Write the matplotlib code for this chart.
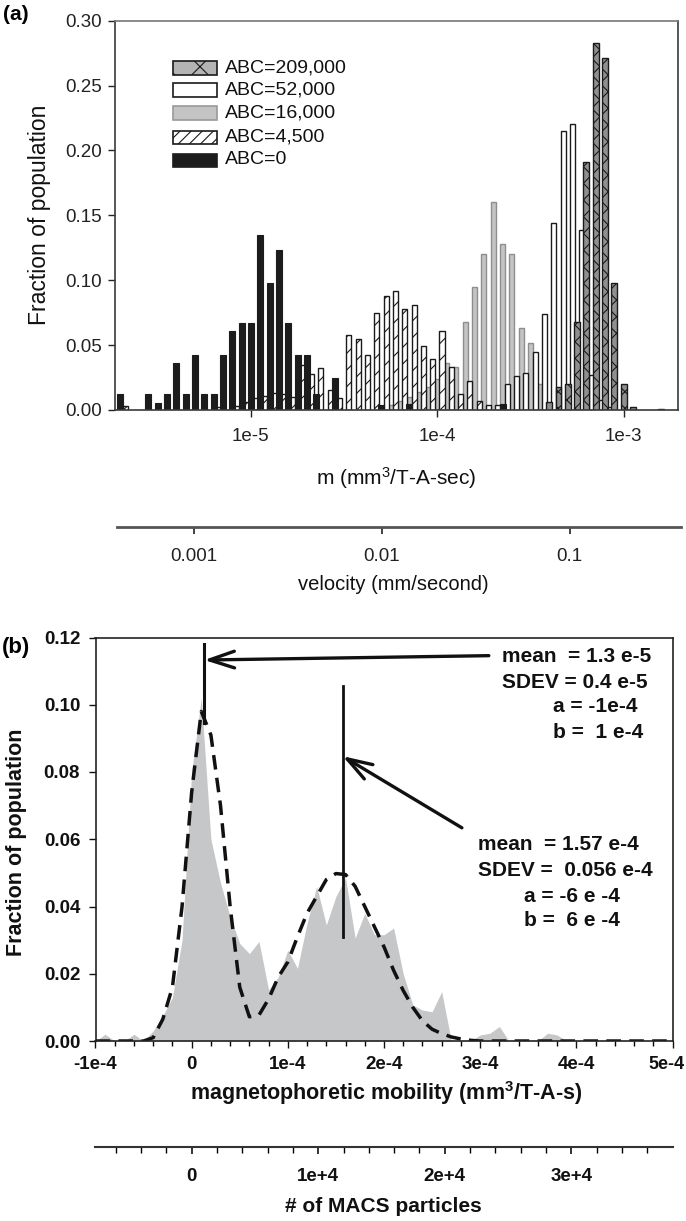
import numpy as np
import matplotlib.pyplot as plt
from matplotlib.patches import Rectangle
from matplotlib.ticker import FixedLocator, NullLocator, MultipleLocator
from matplotlib.transforms import ScaledTranslation

plt.rcParams['font.family'] = ['Liberation Sans', 'DejaVu Sans']
plt.rcParams['mathtext.default'] = 'regular'
plt.rcParams['hatch.linewidth'] = 0.8

W, H = 686, 1221

# ---------------- (a) histograms on log bins: 20 bins / decade from 10^-5.70
bin_start = -5.70
bin_step = 0.05

abc0_bin = [0, 3, 4, 5, 6, 7, 8, 9, 10, 11, 12, 13, 14, 15, 16, 17, 18, 19, 20, 21, 23, 28, 31, 41]
abc0_frac = [0.012, 0.012, 0.0056, 0.012, 0.036, 0.012, 0.042, 0.012, 0.012, 0.042, 0.061, 0.067,
             0.067, 0.135, 0.098, 0.123, 0.067, 0.042, 0.042, 0.012, 0.025, 0.004, 0.005, 0.005]

abc4500_bin = [0, 10, 12, 13, 14, 15, 16, 17, 18, 19, 20, 21, 22, 23, 24, 25, 26, 27, 28, 29,
               30, 31, 32, 33, 34, 35, 36, 37, 38]
abc4500_frac = [0.003, 0.002, 0.003, 0.006, 0.009, 0.011, 0.013, 0.012, 0.010, 0.035, 0.028, 0.032,
                0.0155, 0.009, 0.058, 0.055, 0.042, 0.0745, 0.088, 0.0915, 0.078, 0.081, 0.049,
                0.039, 0.061, 0.033, 0.012, 0.022, 0.007]

abc16k_bin = [29, 30, 31, 32, 33, 34, 35, 36, 37, 38, 39, 40, 41, 42, 43, 44, 45]
abc16k_frac = [0.004, 0.007, 0.010, 0.014, 0.018, 0.024, 0.036, 0.033, 0.068, 0.095, 0.120,
               0.160, 0.128, 0.120, 0.063, 0.052, 0.020]

abc52k_bin = [39, 40, 41, 42, 43, 44, 45, 46, 47, 48, 49, 50, 51, 52]
abc52k_frac = [0.004, 0.004, 0.0197, 0.026, 0.0287, 0.0446, 0.0736, 0.144, 0.215, 0.2205,
               0.139, 0.027, 0.008, 0.002]

abc209k_bin = [46, 47, 48, 49, 50, 51, 52, 53, 54, 55, 58, 60]
abc209k_frac = [0.006, 0.018, 0.020, 0.068, 0.191, 0.283, 0.271, 0.098, 0.020, 0.002, 0.001, 0.001]

legend_labels = ['ABC=209,000', 'ABC=52,000', 'ABC=16,000', 'ABC=4,500', 'ABC=0']
m_ticks = [1e-5, 1e-4, 1e-3]
m_ticklabels = ['1e-5', '1e-4', '1e-3']
vel_ticks = [0.001, 0.01, 0.1]
vel_ticklabels = ['0.001', '0.01', '0.1']
vel_per_m = 200.0

# ---------------- (b) mobility distribution, bins of 1e-5
mob_bin_e5 = list(range(-10, 51))
mob_frac = [0, 0.002, 0, 0, 0.002, 0, 0.003, 0.0075, 0.013, 0.030,
            0.080, 0.102, 0.060, 0.047, 0.037, 0.029, 0.026, 0.0296, 0.0152, 0.019,
            0.027, 0.0216, 0.035, 0.046, 0.0345, 0.043, 0.0485, 0.0306, 0.038, 0.0316,
            0.0316, 0.0336, 0.020, 0.0107, 0.0092, 0.0087, 0.0147, 0, 0, 0,
            0.0018, 0.0023, 0.0043, 0, 0, 0, 0, 0.0023, 0.0018, 0,
            0, 0, 0, 0, 0, 0, 0, 0, 0, 0, 0]
fit_frac = [0, 0, 0, 0, 0, 0, 0.001, 0.0065, 0.016, 0.040,
            0.074, 0.098, 0.091, 0.070, 0.040, 0.016, 0.0072, 0.0077, 0.0125, 0.019,
            0.0235, 0.031, 0.038, 0.043, 0.048, 0.0498, 0.0495, 0.046, 0.040, 0.034,
            0.028, 0.021, 0.015, 0.010, 0.0060, 0.0035, 0.0022, 0.0012, 0.0006, 0.0002,
            0, 0, 0, 0, 0, 0, 0, 0, 0, 0,
            0, 0, 0, 0, 0, 0, 0, 0, 0, 0, 0]
peak_means = [1.3e-5, 1.57e-4]
mob_ticks = [-1e-4, 0, 1e-4, 2e-4, 3e-4, 4e-4, 5e-4]
mob_ticklabels = ['-1e-4', '0', '1e-4', '2e-4', '3e-4', '4e-4', '5e-4']
m_per_particle = 1.316e-8
part_ticks = [0, 1e4, 2e4, 3e4]
part_ticklabels = ['0', '1e+4', '2e+4', '3e+4']

fig = plt.figure(figsize=(W / 100, H / 100), dpi=100)


def fx(px):
    return px / W


def fy(py):
    return 1 - py / H


# ===================== panel (a)
ax = fig.add_axes([fx(115.4), fy(410), fx(678) - fx(115.4), fy(20.7) - fy(410)])
ax.set_xscale('log')
ax.set_xlim(10 ** -5.727, 10 ** -2.709)
ax.set_ylim(0, 0.30)


def log_bars(bins, frac, shift, width, **kw):
    c = bin_start + bin_step * (np.asarray(bins) + shift)
    left = 10 ** (c - width / 2)
    right = 10 ** (c + width / 2)
    ax.bar(left, frac, width=right - left, align='edge', **kw)


log_bars(abc16k_bin, abc16k_frac, 0.0, 0.027, facecolor='#c4c4c4', edgecolor='#8e8e8e', linewidth=1.0)
log_bars(abc52k_bin, abc52k_frac, 0.5, 0.027, facecolor='white', edgecolor='#1a1a1a', linewidth=1.0)
log_bars(abc209k_bin, abc209k_frac, 0.0, 0.032, facecolor='#8f8f8f', edgecolor='#1a1a1a',
         linewidth=1.0, hatch='xx')
log_bars(abc4500_bin, abc4500_frac, 0.5, 0.027, facecolor='white', edgecolor='#1a1a1a',
         linewidth=1.0, hatch='//')
log_bars(abc0_bin, abc0_frac, 0.0, 0.032, facecolor='#1c1c1c', edgecolor='#1c1c1c', linewidth=0.8)

ax.xaxis.set_major_locator(FixedLocator(m_ticks))
ax.xaxis.set_minor_locator(NullLocator())
ax.set_xticks(m_ticks)
ax.set_xticklabels(m_ticklabels)
ax.set_yticks(np.arange(0, 0.301, 0.05))
ax.set_yticklabels(['%.2f' % v for v in np.arange(0, 0.301, 0.05)])
ax.tick_params(axis='both', direction='out', length=5, width=1, labelsize=13.5, colors='#222')
ax.tick_params(axis='x', pad=8)
ax.tick_params(axis='y', pad=5)
for s in ax.spines.values():
    s.set_color('#3a3a3a')
    s.set_linewidth(1.2)
ax.spines['top'].set_color('#777777')

# legend swatches
leg_rows = [68, 90, 113, 137, 160]
leg_style = [dict(facecolor='#b4b4b4', edgecolor='#1a1a1a', hatch='x'),
             dict(facecolor='white', edgecolor='#1a1a1a'),
             dict(facecolor='#c4c4c4', edgecolor='#9a9a9a'),
             dict(facecolor='white', edgecolor='#1a1a1a', hatch='///'),
             dict(facecolor='#1c1c1c', edgecolor='#1c1c1c')]
for row, lab, st in zip(leg_rows, legend_labels, leg_style):
    ax.add_patch(Rectangle(((173 - 115.4) / 562.6, (410 - row - 6.5) / 389.3), 44 / 562.6, 13 / 389.3,
                           transform=ax.transAxes, linewidth=1.2, **st))
    ax.text((225 - 115.4) / 562.6, (410 - row) / 389.3, lab, transform=ax.transAxes,
            ha='left', va='center', fontsize=14, color='#111')

fig.text(fx(3), fy(15), '(a)', fontsize=15, fontweight='bold', ha='left', va='center')
fig.text(fx(40), fy(215), 'Fraction of population', rotation=90, fontsize=16.5,
         ha='center', va='center', color='#111')
fig.text(fx(396.5), fy(478), 'm (mm$^{3}$/T-A-sec)', fontsize=15, ha='center', va='center', color='#111')

# velocity axis
axv = fig.add_axes([fx(116.7), fy(527), fx(680.6) - fx(116.7), 0.0001])
axv.set_xscale('log')
axv.set_xlim(10 ** -3.41, 10 ** -0.409)
axv.set_yticks([])
for k in ['top', 'left', 'right']:
    axv.spines[k].set_visible(False)
axv.spines['bottom'].set_color('#555555')
axv.spines['bottom'].set_linewidth(2)
axv.xaxis.set_major_locator(FixedLocator(vel_ticks))
axv.xaxis.set_minor_locator(NullLocator())
axv.set_xticks(vel_ticks)
axv.set_xticklabels(vel_ticklabels)
axv.tick_params(axis='x', direction='out', length=5, width=1.2, labelsize=13.5, pad=10, colors='#222')
axv.patch.set_visible(False)
fig.text(fx(393), fy(585), 'velocity (mm/second)', fontsize=14.5, ha='center', va='center', color='#111')

# ===================== panel (b)
bx = fig.add_axes([fx(95.5), fy(1041), fx(672.5) - fx(95.5), fy(637.5) - fy(1041)])
mob_x = np.array(mob_bin_e5) * 1e-5
bx.fill_between(mob_x, 0, mob_frac, color='#c6c7c9', linewidth=0)
bx.plot(mob_x, fit_frac, color='#111', linewidth=2.5, dashes=(4.2, 2.4), clip_on=True)

bx.plot([peak_means[0]] * 2, [0.0947, 0.118], color='#111', linewidth=2.2)
bx.plot([peak_means[1]] * 2, [0.031, 0.1057], color='#111', linewidth=2.0)
arrow = dict(arrowstyle='->,head_length=1.8,head_width=0.6', lw=2.4, color='#111',
             shrinkA=0, shrinkB=0)
bx.annotate('', xy=(peak_means[0], 0.1133), xytext=(3.09e-4, 0.1146), arrowprops=arrow)
bx.annotate('', xy=(peak_means[1], 0.0847), xytext=(2.81e-4, 0.0634), arrowprops=arrow)

bx.set_xlim(-1e-4, 5e-4)
bx.set_ylim(0, 0.12)
bx.set_xticks(mob_ticks)
bx.set_xticklabels(mob_ticklabels, fontweight='bold')
bx.xaxis.set_minor_locator(MultipleLocator(2e-5))
bx.set_yticks(np.arange(0, 0.121, 0.02))
bx.set_yticklabels(['%.2f' % v for v in np.arange(0, 0.121, 0.02)], fontweight='bold')
bx.tick_params(axis='both', which='major', direction='out', length=5, width=1, labelsize=13.5, colors='#111')
bx.tick_params(axis='x', which='minor', direction='out', length=3.5, width=1)
bx.tick_params(axis='x', pad=6)
bx.tick_params(axis='y', pad=6)
for s in bx.spines.values():
    s.set_color('#222')
    s.set_linewidth(1.2)
# keep the last tick label inside the figure edge
last = bx.get_xticklabels()[-1]
last.set_fontsize(13)
last.set_transform(last.get_transform() + ScaledTranslation(-4 / 72, 0, fig.dpi_scale_trans))

ann_font = dict(fontsize=15, fontweight='bold', ha='left', va='center', color='#111')
fig.text(fx(502), fy(656), 'mean  = 1.3 e-5', **ann_font)
fig.text(fx(502), fy(682), 'SDEV = 0.4 e-5', **ann_font)
fig.text(fx(553), fy(707), 'a = -1e-4', **ann_font)
fig.text(fx(553), fy(732), 'b =  1 e-4', **ann_font)
fig.text(fx(478), fy(844), 'mean  = 1.57 e-4', **ann_font)
fig.text(fx(478), fy(870), 'SDEV =  0.056 e-4', **ann_font)
fig.text(fx(524), fy(896), 'a = -6 e -4', **ann_font)
fig.text(fx(524), fy(920), 'b =  6 e -4', **ann_font)

fig.text(fx(2), fy(647), '(b)', fontsize=16, fontweight='bold', ha='left', va='center')
fig.text(fx(17), fy(842), 'Fraction of population', rotation=90, fontsize=15.5,
         fontweight='bold', ha='center', va='center', color='#111')
fig.text(fx(386), fy(1093), 'magnetophoretic mobility (mm$^{3}$/T-A-s)', fontsize=15.5,
         fontweight='bold', ha='center', va='center', color='#111')

# particle-count axis
axp = fig.add_axes([fx(95.5), fy(1147), fx(672.5) - fx(95.5), 0.0001])
axp.set_xlim(-1e-4 / m_per_particle, 5e-4 / m_per_particle)
axp.set_yticks([])
for k in ['top', 'left', 'right']:
    axp.spines[k].set_visible(False)
axp.spines['bottom'].set_color('#333')
axp.spines['bottom'].set_linewidth(1.5)
axp.set_xticks(part_ticks)
axp.set_xticklabels(part_ticklabels, fontweight='bold')
axp.xaxis.set_minor_locator(MultipleLocator(2000))
axp.tick_params(axis='x', which='major', direction='out', length=5, width=1.2, labelsize=13.5,
                pad=10, colors='#111')
axp.tick_params(axis='x', which='minor', direction='out', length=4, width=1)
axp.patch.set_visible(False)
fig.text(fx(383), fy(1206), '# of MACS particles', fontsize=15, fontweight='bold',
         ha='center', va='center', color='#111')

fig.savefig('out.png', dpi=100)
